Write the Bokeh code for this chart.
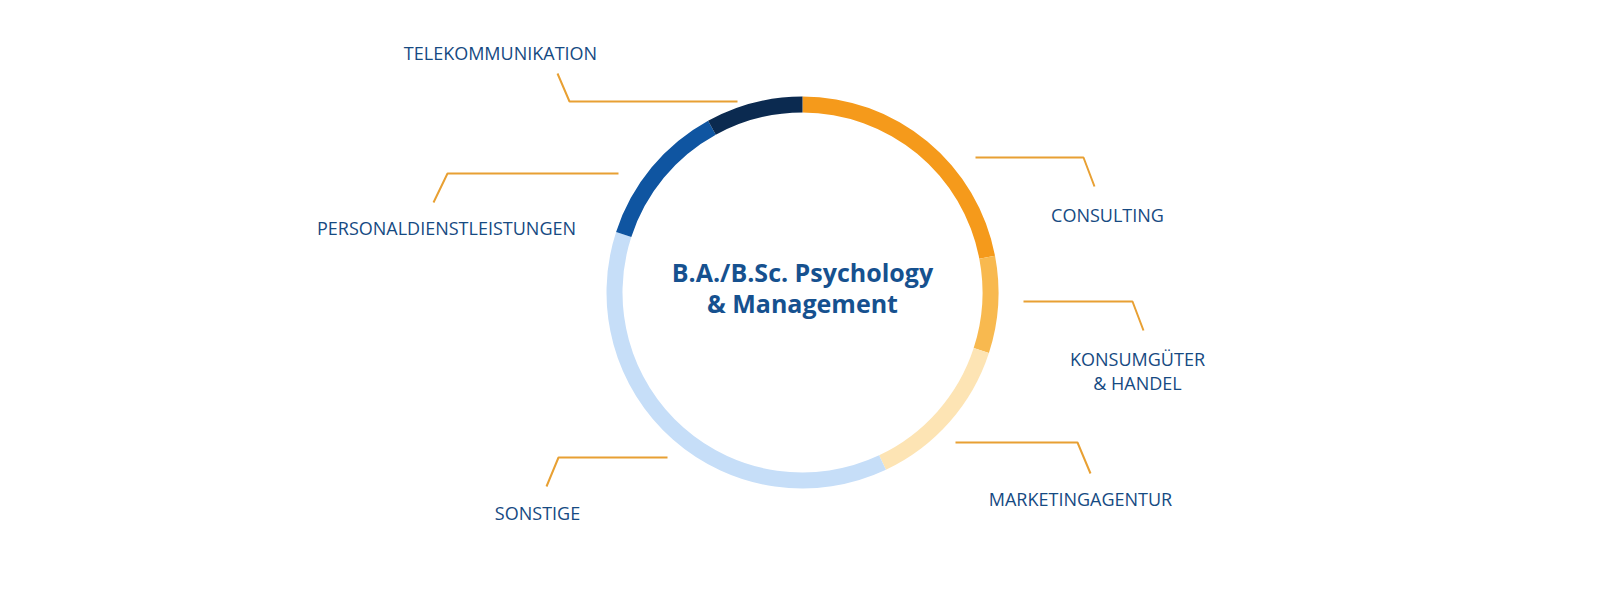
import math
from bokeh.plotting import figure
from bokeh.models import Range1d, ColumnDataSource
from bokeh.core.properties import value
from bokeh.embed import file_html
from bokeh.resources import INLINE

# ---- data (shares, clockwise from 12 o'clock) ----
categories = ["CONSULTING", "KONSUMGÜTER\n& HANDEL", "MARKETINGAGENTUR",
              "SONSTIGE", "PERSONALDIENSTLEISTUNGEN", "TELEKOMMUNIKATION"]
shares = [22, 8, 13, 37, 12, 8]
colors = ["#f59a1b", "#f8b94f", "#fde4b4", "#c6def8", "#0f55a1", "#0b2a50"]
center_title = "B.A./B.Sc. Psychology\n& Management"

# ---- layout (page pixel coordinates) ----
W, H = 1584, 584
cx, cy = 802, 292
r_in, r_out = 180, 196
label_pos = [(1107, 214), (1137, 370), (1080, 498), (537, 512), (446, 227), (500, 52)]
leaders = [
    [(975, 157), (1083, 157), (1094, 186)],
    [(1023, 301), (1132, 301), (1143, 330)],
    [(955, 442), (1077, 442), (1090, 473)],
    [(667, 457), (558, 457), (546, 486)],
    [(618, 173), (447, 173), (433, 202)],
    [(737, 101), (569, 101), (557, 73)],
]

def fy(y):
    return H - y

p = figure(width=W, height=H, x_range=Range1d(0, W), y_range=Range1d(0, H),
           x_axis_type=None, y_axis_type=None, toolbar_location=None,
           output_backend="svg", min_border=0, outline_line_color=None,
           background_fill_color="white", border_fill_color="white")

total = float(sum(shares))
starts, ends = [], []
acc = 0.0
for s in shares:
    a0 = acc / total * 2 * math.pi
    acc += s
    a1 = acc / total * 2 * math.pi
    starts.append(math.pi / 2 - a0)
    ends.append(math.pi / 2 - a1)

src = ColumnDataSource(dict(x=[cx] * len(shares), y=[fy(cy)] * len(shares),
                            start=starts, end=ends, color=colors, cat=categories))
p.annular_wedge(x="x", y="y", inner_radius=r_in, outer_radius=r_out,
                start_angle="start", end_angle="end", direction="clock",
                fill_color="color", line_color=None, source=src)

p.multi_line(xs=[[pt[0] for pt in l] for l in leaders],
             ys=[[fy(pt[1]) for pt in l] for l in leaders],
             line_color="#e8a033", line_width=2)

p.text(x=[lp[0] for lp in label_pos], y=[fy(lp[1]) for lp in label_pos], text=categories,
       text_align="center", text_baseline="middle", text_font=value("Open Sans"),
       text_font_size="18px", text_color="#164a82", text_line_height=1.0)

p.text(x=[cx], y=[fy(287)], text=[center_title], text_align="center",
       text_baseline="middle", text_font=value("Open Sans"), text_font_style="bold",
       text_font_size="25px", text_color="#16518f", text_line_height=0.92)

open("out.html", "w").write(file_html(p, INLINE))
